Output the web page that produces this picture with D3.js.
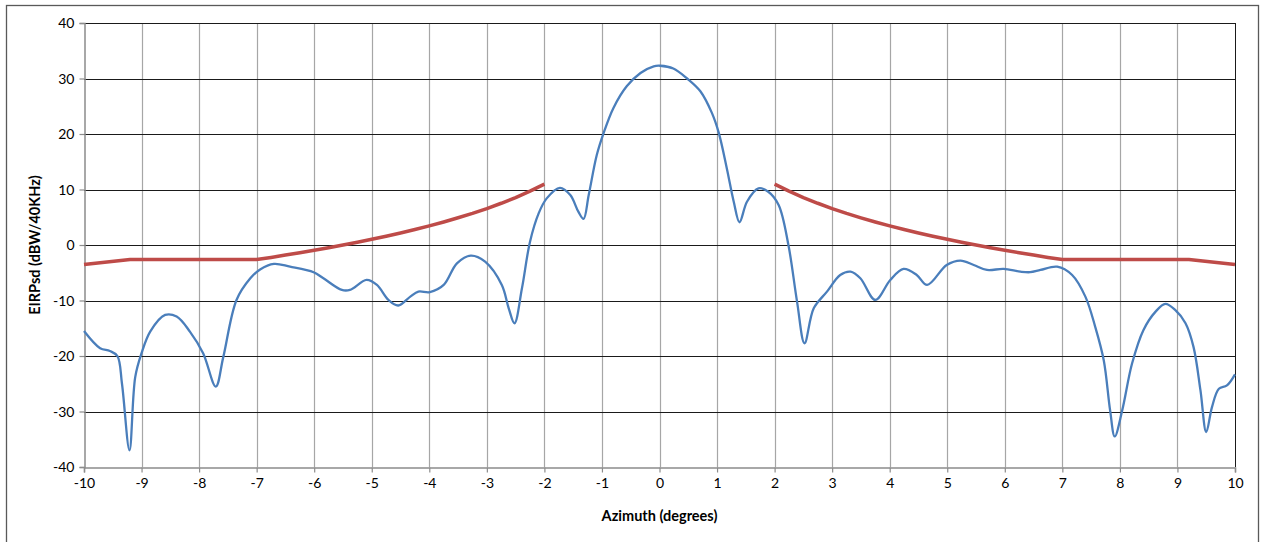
<!DOCTYPE html>
<html>
<head>
<meta charset="utf-8">
<script src="https://cdn.jsdelivr.net/npm/d3@7"></script>
<style>
  html, body { margin: 0; padding: 0; background: #fff; }
  svg { display: block; }
  text { font-family: Lato, "Open Sans", "Liberation Sans", sans-serif; fill: #000; }
</style>
</head>
<body>
<svg id="chart" width="1264" height="542"></svg>
<script>
// ---- Data ----
const xTicks = [-10,-9,-8,-7,-6,-5,-4,-3,-2,-1,0,1,2,3,4,5,6,7,8,9,10];
const yTicks = [-40,-30,-20,-10,0,10,20,30,40];

// Measured antenna pattern (blue)
const patternAz = [-10,-9.72,-9.55,-9.42,-9.34,-9.21,-9.11,-9.0,-8.85,-8.59,-8.39,-8.16,-7.93,-7.71,-7.58,-7.35,-7.11,-6.94,-6.70,
  -6.42,-6.01,-5.84,-5.52,-5.38,-5.09,-4.91,-4.71,-4.54,-4.33,-4.19,-3.99,-3.75,-3.52,-3.28,-3.03,-2.74,-2.62,-2.52,-2.39,-2.25,-2.10,-1.96,
  -1.73,-1.55,-1.41,-1.32,-1.23,-1.09,-0.97,-0.80,-0.57,-0.33,-0.10,0.01,0.24,0.48,0.71,0.91,1.03,1.17,1.29,1.39,1.52,1.72,1.89,2.07,2.24,
  2.39,2.52,2.68,2.91,3.14,3.32,3.49,3.75,4.01,4.24,4.47,4.65,4.99,5.23,5.46,5.69,5.98,6.27,6.44,6.62,6.91,7.17,7.40,7.57,7.72,7.83,7.91,
  8.04,8.21,8.41,8.62,8.79,8.96,9.14,9.28,9.40,9.50,9.60,9.72,9.86,10.0];
const patternDb = [-15.5,-18.6,-19.1,-20.0,-25,-37,-23.8,-19.5,-15.6,-12.6,-12.9,-15.6,-19.5,-25.5,-20.2,-9.9,-6.0,-4.4,-3.4,
  -3.9,-4.9,-6.0,-8.1,-8.1,-6.3,-7.2,-9.9,-10.9,-9.3,-8.4,-8.5,-7.2,-3.3,-1.9,-3.0,-7.2,-11.4,-14.1,-7.8,0.6,5.7,8.4,
  10.3,9.0,6.0,4.7,9.0,16.2,20.2,24.7,28.6,31.0,32.2,32.3,31.8,30.0,27.7,23.8,20.2,13.8,7.8,4.1,7.8,10.2,9.6,7.2,0,
  -10.2,-17.7,-11.4,-8.4,-5.4,-4.8,-6.0,-9.9,-6.3,-4.3,-5.4,-7.2,-3.6,-2.8,-3.6,-4.5,-4.3,-4.8,-4.9,-4.5,-3.9,-5.4,-9.3,-14.7,-20.8,-29.8,-34.5,
  -29.8,-21.4,-15.3,-12.0,-10.6,-11.7,-14.1,-18.4,-26.2,-33.7,-29.2,-25.9,-25.3,-23.3];

// Mask (red), left and right segments
const maskLeftAz = [-10,-9.2,-7,-6.75,-6.5,-6.25,-6,-5.75,-5.5,-5.25,-5,-4.75,-4.5,-4.25,-4,-3.75,-3.5,-3.25,-3,-2.75,-2.5,-2.25,-2];
const maskLeftDb = [-3.5,-2.6,-2.63,-2.24,-1.82,-1.40,-0.95,-0.49,-0.01,0.50,1.03,1.59,2.17,2.79,3.45,4.15,4.90,5.70,6.57,7.52,8.55,9.70,10.97];
const maskRightAz = maskLeftAz.map(a => -a).reverse();
const maskRightDb = maskLeftDb.slice().reverse();

// ---- Layout ----
const svg = d3.select("#chart");
const L = 84, R = 1235, T = 23, B = 467;
const x = d3.scaleLinear().domain([-10, 10]).range([L, R]);
const y = d3.scaleLinear().domain([-40, 40]).range([B, T]);

// outer chart border
svg.append("rect").attr("x", 6.5).attr("y", 5.5).attr("width", 1252).attr("height", 545)
  .attr("fill", "none").attr("stroke", "#595959").attr("stroke-width", 1.3);

// vertical gridlines
svg.append("g").selectAll("line").data(xTicks.slice(1, -1)).join("line")
  .attr("x1", d => Math.round(x(d)) + 0.5).attr("x2", d => Math.round(x(d)) + 0.5)
  .attr("y1", T).attr("y2", B).attr("stroke", "#a6a6a6").attr("stroke-width", 1.2);
// horizontal gridlines
svg.append("g").selectAll("line").data(yTicks.slice(1)).join("line")
  .attr("x1", L).attr("x2", R)
  .attr("y1", d => Math.round(y(d)) + 0.5).attr("y2", d => Math.round(y(d)) + 0.5)
  .attr("stroke", "#1a1a1a").attr("stroke-width", 1);
// right border
svg.append("line").attr("x1", Math.round(R) + 0.5).attr("x2", Math.round(R) + 0.5)
  .attr("y1", T).attr("y2", B).attr("stroke", "#1a1a1a").attr("stroke-width", 1);

// axes
const fmt = d => String(d);
const xAxis = d3.axisBottom(x).tickValues(xTicks).tickFormat(fmt).tickSize(5).tickPadding(6);
const gx = svg.append("g").attr("transform", `translate(0,${Math.round(B) + 0.5})`).call(xAxis);
const yAxis = d3.axisLeft(y).tickValues(yTicks).tickFormat(fmt).tickSize(5).tickPadding(5);
const gy = svg.append("g").attr("transform", `translate(${L + 0.5},0)`).call(yAxis);
[gx, gy].forEach(g => {
  g.select(".domain").attr("stroke", "#8c8c8c").attr("stroke-width", 1.5);
  g.selectAll(".tick line").attr("stroke", "#8c8c8c").attr("stroke-width", 1.2);
  g.selectAll(".tick text").attr("font-size", 14).attr("fill", "#000")
    .style("font-family", "Lato, 'Open Sans', sans-serif");
});
gy.selectAll(".tick text").attr("dy", "0.35em");

// red mask lines
const line = d3.line().x(d => x(d[0])).y(d => y(d[1]));
const maskLeft = maskLeftAz.map((a, i) => [a, maskLeftDb[i]]);
const maskRight = maskRightAz.map((a, i) => [a, maskRightDb[i]]);
[maskLeft, maskRight].forEach(seg => {
  svg.append("path").datum(seg).attr("d", line)
    .attr("fill", "none").attr("stroke", "#be4b48").attr("stroke-width", 3.5)
    .attr("stroke-linejoin", "round");
});

// blue pattern
const pattern = patternAz.map((a, i) => [a, patternDb[i]]);
svg.append("path").datum(pattern)
  .attr("d", d3.line().x(d => x(d[0])).y(d => y(d[1])).curve(d3.curveCatmullRom.alpha(0.5)))
  .attr("fill", "none").attr("stroke", "#4a7ebb").attr("stroke-width", 2.3)
  .attr("stroke-linejoin", "round");

// axis titles
svg.append("text").attr("x", (L + R) / 2).attr("y", 521).attr("text-anchor", "middle")
  .attr("font-size", 14.5).attr("font-weight", "bold").text("Azimuth (degrees)");
svg.append("text").attr("transform", `translate(40,${(T + B) / 2}) rotate(-90)`)
  .attr("text-anchor", "middle").attr("font-size", 14.5).attr("font-weight", "bold")
  .text("EIRPsd (dBW/40KHz)");
</script>
</body>
</html>
